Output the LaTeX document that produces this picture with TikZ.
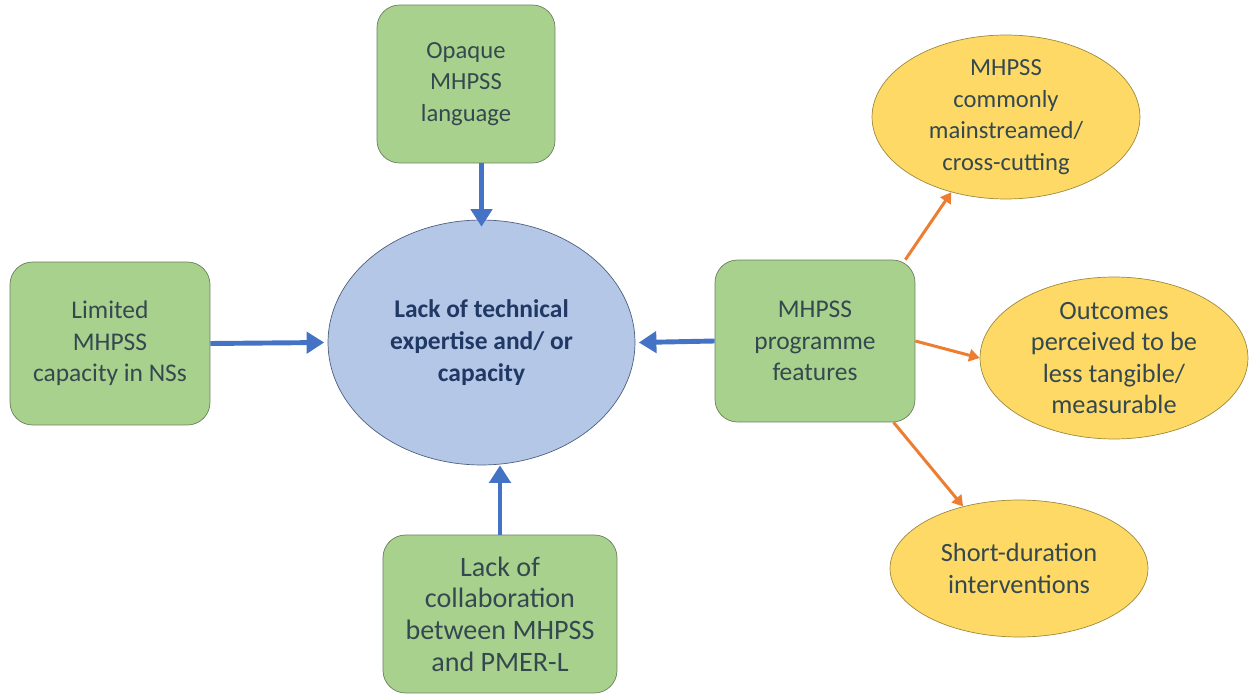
\documentclass[tikz,border=0pt]{standalone}
\usepackage{fontspec}
\setmainfont{Carlito}
\usepackage{tikz}
\usetikzlibrary{arrows.meta,shapes.geometric}

\definecolor{boxgreen}{HTML}{A9D18E}
\definecolor{boxedge}{HTML}{6A7F5C}
\definecolor{hubblue}{HTML}{B4C7E7}
\definecolor{hubedge}{HTML}{4F5F7F}
\definecolor{ovalyellow}{HTML}{FFD966}
\definecolor{ovaledge}{HTML}{9C8A3E}
\definecolor{arrowblue}{HTML}{4472C4}
\definecolor{arroworange}{HTML}{ED7D31}
\definecolor{textgrey}{HTML}{34494F}
\definecolor{textnavy}{HTML}{203864}

\begin{document}
\begin{tikzpicture}[x=0.02cm,y=-0.02cm,
    factor/.style={draw=boxedge,fill=boxgreen,rounded corners=0.45cm,align=center,
        text=textgrey,font=\fontsize{#1}{18}\selectfont,inner sep=0pt},
    factor/.default=14.5,
    hub/.style={ellipse,draw=hubedge,fill=hubblue,align=center,inner sep=0pt,
        text=textnavy,font=\fontsize{14.5}{18}\selectfont\bfseries},
    feature/.style={ellipse,draw=ovaledge,fill=ovalyellow,align=center,inner sep=0pt,
        text=textgrey,font=\fontsize{#1}{18}\selectfont},
    feature/.default=15,
    causes/.style={draw=arrowblue,line width=2.8pt,-{Triangle[length=10pt,width=12pt]}},
    leadsto/.style={draw=arroworange,line width=1.7pt,-{Triangle[length=6pt,width=7pt]}}]

    \useasboundingbox (0,0) rectangle (1249,696);

    % hub
    \node[hub,minimum width=6.14cm,minimum height=4.9cm] at (481.5,342.5) (lack)
        {Lack of technical\\expertise and/ or\\capacity};

    % contributing factors
    \node[factor=14,minimum width=3.56cm,minimum height=3.16cm] at (466,84) (opaque)
        {Opaque\\MHPSS\\language};
    \node[factor,minimum width=4cm,minimum height=3.26cm] at (110,343.5) (limited)
        {Limited\\MHPSS\\capacity in NSs};
    \node[factor=16,minimum width=4.68cm,minimum height=3.16cm] at (500,614) (collab)
        {Lack of\\collaboration\\between MHPSS\\and PMER-L};
    \node[factor,minimum width=4cm,minimum height=3.24cm] at (815,341) (features)
        {MHPSS\\programme\\features};

    % programme features
    \node[feature=14,minimum width=5.36cm,minimum height=3.28cm] at (1006,117) (mainstream)
        {MHPSS\\commonly\\mainstreamed/\\cross-cutting};
    \node[feature,minimum width=5.36cm,minimum height=3.24cm] at (1114,358) (outcomes)
        {Outcomes\\perceived to be\\less tangible/\\measurable};
    \node[feature,minimum width=5.16cm,minimum height=2.74cm] at (1019,568.5) (shortdur)
        {Short-duration\\interventions};

    \draw[causes] (lack.north |- opaque.south) -- ([yshift=-4]lack.north);
    \draw[causes] (limited.east) -- ([xshift=-2]lack.west);
    \draw[causes] (features.west) -- ([xshift=2]lack.east);
    \draw[causes] (collab.north) -- (collab.north |- lack.south);

    \draw[leadsto] (features.42) -- (mainstream.234);
    \draw[leadsto] (features.east) -- (outcomes.west);
    \draw[leadsto] (features.-46) -- (shortdur.132);

\end{tikzpicture}
\end{document}
